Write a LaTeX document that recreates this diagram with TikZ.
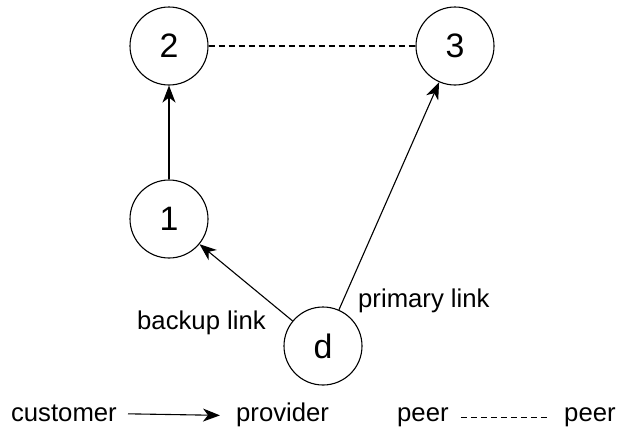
\documentclass[tikz,border=0pt]{standalone}
\usepackage{fontspec}
\setmainfont{Liberation Sans}
\usetikzlibrary{arrows.meta}
\tikzset{
  asnode/.style={circle, draw, line width=1.1bp, minimum size=78bp, inner sep=0pt, font=\fontsize{34}{38}\selectfont},
  lbl/.style={inner sep=0pt, font=\fontsize{25.8}{30}\selectfont},
  cp/.style={line width=1.1bp, -{Stealth[length=17bp,width=13bp,inset=5bp]}},
  peerline/.style={line width=1.1bp, dash pattern=on 6bp off 4bp}
}
\begin{document}
\begin{tikzpicture}[x=1bp,y=-1bp]
\useasboundingbox (0,0) rectangle (618,430);
\node[asnode] (n2) at (169,46) {2};
\node[asnode] (n3) at (455,46) {3};
\node[asnode] (n1) at (169,219) {1};
\node[asnode] (nd) at (323,346) {d};
\draw[peerline] (n2) -- (n3);
\draw[cp] (n1) -- (n2);
\draw[cp] (nd) -- (n1);
\draw[cp] (nd) -- (n3);
\node[lbl, anchor=base west] (bl) at (137,329) {backup link};
\node[lbl, anchor=base west] (pl) at (358,307) {primary link};
% legend
\node[lbl, anchor=base east] (cust) at (117,421) {customer};
\node[lbl, anchor=base west] (prov) at (236,421) {provider};
\node[lbl, anchor=base west] (peerA) at (397,421) {peer};
\node[lbl, anchor=base west] (peerB) at (564,421) {peer};
\draw[cp] ([xshift=11bp,yshift=-1bp]cust.east) -- ([xshift=-16bp,yshift=-1bp]prov.west);
\draw[peerline] ([xshift=12bp,yshift=-1bp]peerA.east) -- ([xshift=-16bp,yshift=-1bp]peerB.west);
\end{tikzpicture}
\end{document}
